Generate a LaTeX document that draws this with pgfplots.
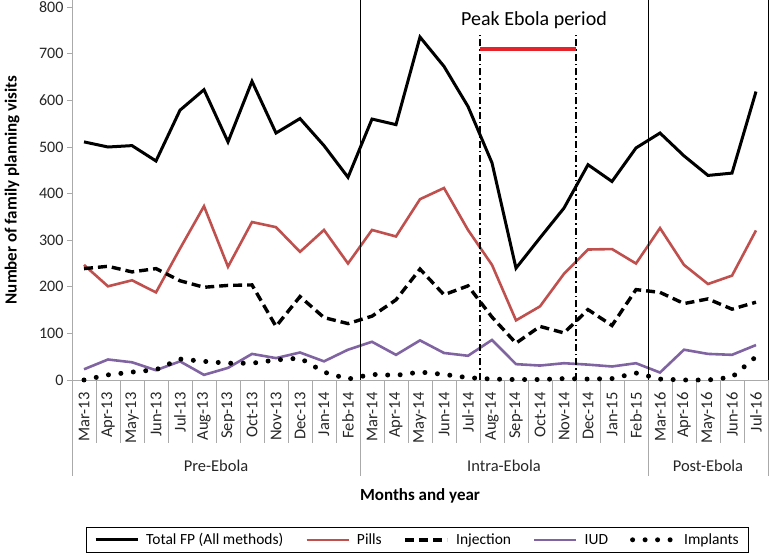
\documentclass[border=0pt]{standalone}
\usepackage{fontspec}
\setmainfont{Carlito}
\usepackage{pgfplots}
\usepackage{pgfplotstable}
\pgfplotsset{compat=1.18}
\definecolor{pills}{RGB}{192,80,77}
\definecolor{iud}{RGB}{128,100,162}
\definecolor{peak}{RGB}{230,35,40}
\definecolor{axgray}{RGB}{170,170,170}

\pgfplotstableread{
idx total pills inj iud impl
0  511 247 239 23 0
1  500 201 244 44 11
2  503 214 232 38 17
3  470 188 239 21 22
4  579 282 213 40 45
5  623 373 199 11 40
6  511 243 203 26 36
7  641 339 204 56 36
8  530 328 115 47 43
9  561 275 179 59 47
10 503 322 134 40 17
11 435 250 121 65 2
12 560 322 137 82 12
13 548 308 172 54 10
14 736 388 238 85 17
15 673 412 183 58 12
16 587 322 202 52 5
17 466 247 135 86 2
18 240 128 79 34 1
19 305 158 115 31 1
20 369 228 101 36 3
21 462 280 151 33 2
22 426 281 117 29 3
23 498 250 194 36 15
24 530 326 188 16 2
25 481 247 164 65 0
26 439 206 174 56 0
27 444 224 152 54 6
28 619 321 167 75 50
}\fpdata

\begin{document}
\begin{tikzpicture}
\begin{axis}[
  at={(0,0)}, anchor=south west,
  scale only axis, width=696pt, height=380pt,
  xmin=-0.5, xmax=28.5, ymin=0, ymax=815.5,
  clip=false,
  axis lines*=left,
  axis line style={draw=axgray, line width=0.8pt},
  xtick={0,...,28},
  xticklabels={Mar-13,Apr-13,May-13,Jun-13,Jul-13,Aug-13,Sep-13,Oct-13,Nov-13,Dec-13,Jan-14,Feb-14,
    Mar-14,Apr-14,May-14,Jun-14,Jul-14,Aug-14,Sep-14,Oct-14,Nov-14,Dec-14,Jan-15,Feb-15,
    Mar-16,Apr-16,May-16,Jun-16,Jul-16},
  major x tick style={draw=none},
  minor xtick={-0.5,0.5,...,28.5},
  minor x tick style={draw=axgray, line width=0.8pt},
  minor tick length=63pt,
  major tick length=5pt,
  tick align=outside,
  ytick={0,100,...,800},
  major y tick style={draw=axgray, line width=0.8pt},
  /pgf/number format/assume math mode=true,
  xticklabel shift=4pt,
  xticklabel style={rotate=90, anchor=east, font=\fontsize{16.5}{16.5}\selectfont, text=black!85},
  yticklabel style={font=\fontsize{16}{16}\selectfont, text=black!85},
  ylabel={Number of family planning visits},
  ylabel style={at={(axis description cs:-0.0862,0.5)}, anchor=center, font=\bfseries\fontsize{17}{17}\selectfont},
  xlabel={Months and year},
  xlabel style={at={(axis description cs:0.5,0)}, anchor=center, yshift=-116pt, font=\bfseries\fontsize{17}{17}\selectfont},
  legend columns=-1,
  legend cell align=left,
  legend image code/.code={\draw[#1] (0pt,0pt) -- (42pt,0pt);},
  legend style={at={(0.4964,-0.3868)}, anchor=north, draw=black, line width=0.8pt,
    font=\fontsize{15.5}{15.5}\selectfont, inner xsep=8pt, inner ysep=4pt,
    /tikz/every even column/.append style={column sep=20pt},
    /tikz/every odd column/.append style={column sep=5pt}},
]
\addplot[black, line width=3pt] table[x=idx, y=total] {\fpdata};
\addlegendentry{Total FP (All methods)}
\addplot[pills, line width=2.6pt] table[x=idx, y=pills] {\fpdata};
\addlegendentry{Pills}
\addplot[black, line width=3.4pt, dash pattern=on 9pt off 5pt] table[x=idx, y=inj] {\fpdata};
\addlegendentry{Injection}
\addplot[iud, line width=2.6pt] table[x=idx, y=iud] {\fpdata};
\addlegendentry{IUD}
\addplot[black, line width=5pt, line cap=round, dash pattern=on 0pt off 12.5pt] table[x=idx, y=impl] {\fpdata};
\addlegendentry{Implants}

% peak Ebola period markers
\addplot[forget plot, black, line width=1.8pt, dash pattern=on 7pt off 3pt on 1.5pt off 3pt] coordinates {(16.5,0) (16.5,742)};
\addplot[forget plot, black, line width=1.8pt, dash pattern=on 7pt off 3pt on 1.5pt off 3pt] coordinates {(20.5,0) (20.5,742)};
\addplot[forget plot, peak, line width=3.5pt] coordinates {(16.5,710) (20.5,710)};
\node[font=\fontsize{20}{20}\selectfont] at (axis cs:18.75,773) {Peak Ebola period};

% period separators
\draw[black, line width=0.9pt] (axis cs:11.5,0) -- (axis cs:11.5,815.5);
\draw[black, line width=0.9pt] (axis cs:23.5,0) -- (axis cs:23.5,815.5);
\draw[black, line width=0.9pt] (axis cs:28.5,0) -- (axis cs:28.5,815.5);
\draw[axgray, line width=0.8pt] (axis cs:-0.5,0) -- ++(0pt,-96pt);
\draw[axgray, line width=0.8pt] (axis cs:11.5,0) -- ++(0pt,-96pt);
\draw[axgray, line width=0.8pt] (axis cs:23.5,0) -- ++(0pt,-96pt);
\draw[axgray, line width=0.8pt] (axis cs:28.5,0) -- ++(0pt,-96pt);
\node[font=\fontsize{16.5}{16.5}\selectfont, text=black!85] at ([yshift=-86pt]axis cs:5.5,0) {Pre-Ebola};
\node[font=\fontsize{16.5}{16.5}\selectfont, text=black!85] at ([yshift=-86pt]axis cs:17.5,0) {Intra-Ebola};
\node[font=\fontsize{16.5}{16.5}\selectfont, text=black!85] at ([yshift=-86pt]axis cs:26,0) {Post-Ebola};
\end{axis}
\pgfresetboundingbox
\path[use as bounding box] (-72pt,-173pt) rectangle (699pt,380pt);
\end{tikzpicture}
\end{document}
